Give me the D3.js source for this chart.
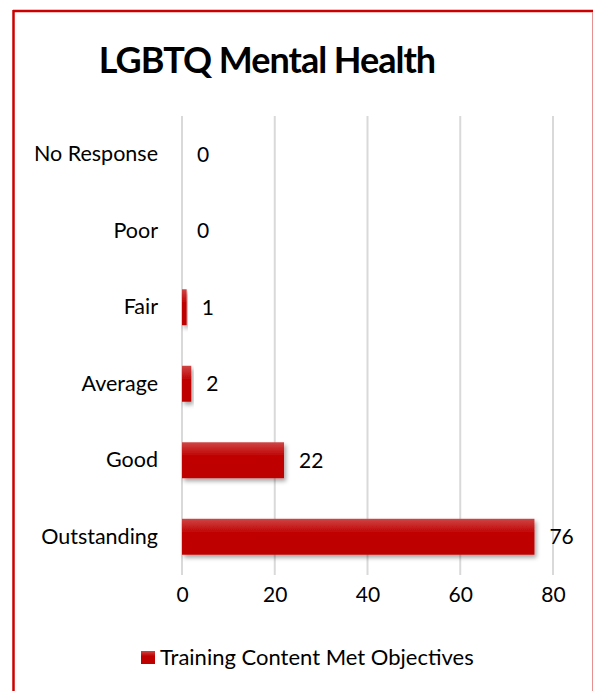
<!DOCTYPE html>
<html>
<head>
<meta charset="utf-8">
<script src="https://cdn.jsdelivr.net/npm/d3@7"></script>
<style>
  html, body { margin: 0; padding: 0; background: #fff; }
  svg { display: block; font-family: Lato, "Open Sans", sans-serif; }
</style>
</head>
<body>
<div id="chart"></div>
<script>
// Data
const categories = ['No Response', 'Poor', 'Fair', 'Average', 'Good', 'Outstanding'];
const values = [0, 0, 1, 2, 22, 76];
const xTicks = [0, 20, 40, 60, 80];
const seriesName = 'Training Content Met Objectives';
const title = 'LGBTQ Mental Health';

const WIDTH = 593;
const HEIGHT = 691;
const margin = { left: 182, right: 42, top: 116, bottom: 116 };
const BAR_RED = '#c00000';
const LABEL_SIZE = 21;

const svg = d3.select('#chart').append('svg')
    .attr('width', WIDTH)
    .attr('height', HEIGHT);

// Defs: gradient + shadow for the bars
const defs = svg.append('defs');
const grad = defs.append('linearGradient')
    .attr('id', 'barGrad')
    .attr('x1', 0).attr('y1', 0).attr('x2', 0).attr('y2', 1);
grad.append('stop').attr('offset', '0%').attr('stop-color', '#cf4545');
grad.append('stop').attr('offset', '40%').attr('stop-color', BAR_RED);
grad.append('stop').attr('offset', '100%').attr('stop-color', '#bd0000');

const shadow = defs.append('filter')
    .attr('id', 'barShadow')
    .attr('x', '-10%').attr('y', '-30%')
    .attr('width', '130%').attr('height', '180%');
shadow.append('feDropShadow')
    .attr('dx', 2).attr('dy', 3)
    .attr('stdDeviation', 2)
    .attr('flood-color', '#000')
    .attr('flood-opacity', 0.35);

// Frame
svg.append('rect')
    .attr('x', 0).attr('y', 0)
    .attr('width', WIDTH).attr('height', HEIGHT)
    .attr('fill', '#fff');
svg.append('line')
    .attr('x1', 13).attr('x2', WIDTH).attr('y1', 11).attr('y2', 11)
    .attr('stroke', '#cc0000').attr('stroke-width', 2.5);
svg.append('line')
    .attr('x1', 13.5).attr('x2', 13.5).attr('y1', 10).attr('y2', HEIGHT)
    .attr('stroke', '#cc0000').attr('stroke-width', 2.5);
svg.append('line')
    .attr('x1', 592.5).attr('x2', 592.5).attr('y1', 12).attr('y2', HEIGHT)
    .attr('stroke', '#e89090').attr('stroke-width', 1);

// Title
svg.append('text')
    .attr('x', 267)
    .attr('y', 73)
    .attr('text-anchor', 'middle')
    .attr('font-size', 36)
    .attr('font-weight', 'bold')
    .attr('letter-spacing', -1)
    .attr('fill', '#000')
    .text(title);

// Scales
const x = d3.scaleLinear()
    .domain([0, 80])
    .range([margin.left, WIDTH - margin.right + 2]);

const y = d3.scaleBand()
    .domain(categories)
    .range([margin.top, HEIGHT - margin.bottom])
    .paddingInner(0.53)
    .paddingOuter(0.265);

// Gridlines
svg.append('g')
    .selectAll('line')
    .data(xTicks)
    .join('line')
    .attr('x1', d => x(d)).attr('x2', d => x(d))
    .attr('y1', margin.top).attr('y2', HEIGHT - margin.bottom)
    .attr('stroke', '#d9d9d9')
    .attr('stroke-width', 2);

// X axis labels
const xAxis = d3.axisBottom(x).tickValues(xTicks).tickSize(0).tickPadding(0);
const xAxisG = svg.append('g')
    .attr('transform', `translate(0,${HEIGHT - margin.bottom + 12})`)
    .call(xAxis);
xAxisG.select('.domain').remove();
xAxisG.selectAll('text')
    .attr('font-family', 'Lato, "Open Sans", sans-serif')
    .attr('font-size', LABEL_SIZE)
    .attr('fill', '#000');

// Y axis labels
const yAxis = d3.axisLeft(y).tickSize(0).tickPadding(24);
const yAxisG = svg.append('g')
    .attr('transform', `translate(${margin.left},0)`)
    .call(yAxis);
yAxisG.select('.domain').remove();
yAxisG.selectAll('text')
    .attr('font-family', 'Lato, "Open Sans", sans-serif')
    .attr('font-size', 21.5)
    .attr('fill', '#000');

// Bars
const rows = categories.map((c, i) => ({ category: c, value: values[i] }));
svg.append('g')
    .selectAll('rect')
    .data(rows.filter(d => d.value > 0))
    .join('rect')
    .attr('x', x(0))
    .attr('y', d => y(d.category))
    .attr('width', d => x(d.value) - x(0))
    .attr('height', y.bandwidth())
    .attr('fill', 'url(#barGrad)')
    .attr('filter', 'url(#barShadow)');

// Value labels
svg.append('g')
    .selectAll('text')
    .data(rows)
    .join('text')
    .attr('x', d => x(d.value) + 15)
    .attr('y', d => y(d.category) + y.bandwidth() / 2)
    .attr('dy', '0.35em')
    .attr('font-size', LABEL_SIZE)
    .attr('fill', '#000')
    .text(d => d.value);

// Legend
const legend = svg.append('g').attr('transform', 'translate(141,651)');
legend.append('rect')
    .attr('width', 14).attr('height', 13)
    .attr('fill', 'url(#barGrad)');
legend.append('text')
    .attr('x', 19)
    .attr('y', 6.5)
    .attr('dy', '0.35em')
    .attr('font-size', 22)
    .attr('fill', '#000')
    .text(seriesName);
</script>
</body>
</html>
